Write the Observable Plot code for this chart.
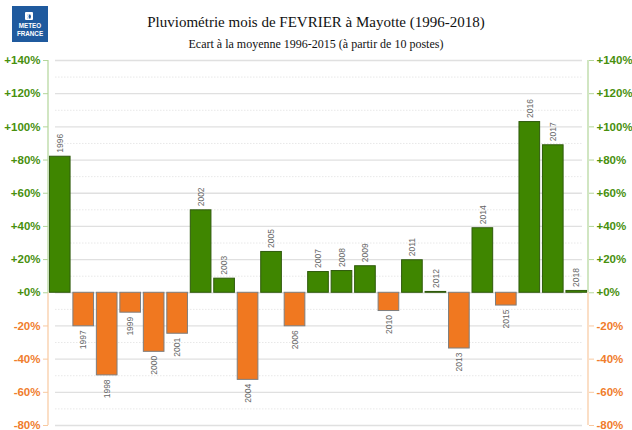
<!DOCTYPE html>
<html>
<head>
<meta charset="utf-8">
<script src="https://cdn.jsdelivr.net/npm/d3@7"></script>
<script src="https://cdn.jsdelivr.net/npm/@observablehq/plot@0.6"></script>
<style>
  body { margin: 0; background: #fff; }
  #wrap { position: relative; width: 632px; height: 430px; overflow: hidden; }
  .title { position: absolute; left: 0; width: 632px; text-align: center; font-family: "Liberation Serif", "Times New Roman", serif; color: #111; line-height: 1; white-space: nowrap; }
  #logo { position: absolute; left: 12px; top: 6px; width: 36px; height: 36px; background: #1f5a9e; }
  #logo .icon { position: absolute; left: 13px; top: 6px; width: 8px; height: 8px; background: #fff; border-radius: 1px; }
  #logo .icon::after { content: ""; position: absolute; left: 2px; top: 1.5px; width: 4px; height: 5px; border-radius: 50%; background: #1f5a9e; box-shadow: inset 1.5px 0 0 #fff; }
  #logo .txt { position: absolute; left: 0; width: 36px; text-align: center; color: #fff; font-family: "Liberation Sans", Arial, sans-serif; font-weight: bold; font-size: 6.3px; line-height: 1; }
</style>
</head>
<body>
<div id="wrap">
  <div id="chart"></div>
  <div class="title" style="top:15.4px;font-size:15px;">Pluviométrie mois de FEVRIER à Mayotte (1996-2018)</div>
  <div class="title" style="top:37.5px;font-size:12px;">Ecart à la moyenne 1996-2015 (à partir de 10 postes)</div>
  <div id="logo"><div class="icon"></div><div class="txt" style="top:17px;">METEO</div><div class="txt" style="top:25px;">FRANCE</div></div>
</div>
<script>
const years = ["1996","1997","1998","1999","2000","2001","2002","2003","2004","2005","2006","2007","2008","2009","2010","2011","2012","2013","2014","2015","2016","2017","2018"];
const ecarts = [82, -20.2, -49.8, -12, -35.6, -24.7, 49.7, 8.5, -52.5, 24.6, -20.2, 12.5, 13.1, 16, -11, 19.6, 0.5, -33.6, 38.9, -7.7, 102.9, 88.9, 1.1];
const majorTicks = [-80, -60, -40, -20, 0, 20, 40, 60, 80, 100, 120, 140];
const minorTicks = [-70, -50, -30, -10, 10, 30, 50, 70, 90, 110, 130];
const posTicks = [0, 20, 40, 60, 80, 100, 120, 140];
const negTicks = [-20, -40, -60, -80];

const data = years.map((y, i) => ({year: y, value: ecarts[i]}));
const pos = data.filter(d => d.value >= 0);
const neg = data.filter(d => d.value < 0);

const green = "#3f8600";
const orange = "#f07820";
const greenText = "#48900e";
const orangeText = "#f07d2c";
const greenLine = "#b3d69a";
const orangeLine = "#f8c9a0";
const fmt = d => (d >= 0 ? "+" : "") + d + "%";

function axisLines(index, scales, values, dims) {
  const y = scales.y;
  const g = d3.create("svg:g");
  const xs = [dims.marginLeft, dims.width - dims.marginRight];
  for (const x of xs) {
    g.append("line").attr("x1", x).attr("x2", x).attr("y1", y(0)).attr("y2", y(posTicks[posTicks.length - 1]))
      .attr("stroke", greenLine).attr("stroke-width", 1.2);
    g.append("line").attr("x1", x).attr("x2", x).attr("y1", y(0)).attr("y2", y(negTicks[negTicks.length - 1]))
      .attr("stroke", orangeLine).attr("stroke-width", 1.2);
  }
  return g.node();
}

const axisFont = {fontSize: 11.5, fontWeight: "bold", tickSize: 5, tickPadding: 3, label: null};

const chart = Plot.plot({
  width: 632,
  height: 430,
  marginTop: 60,
  marginBottom: 5,
  marginLeft: 48,
  marginRight: 44,
  style: {fontFamily: "'Liberation Sans', Arial, sans-serif", background: "transparent"},
  x: {type: "band", domain: years, paddingInner: 0.12, paddingOuter: 0.06, round: false, axis: null},
  y: {domain: [-80, 140], axis: null, label: null},
  marks: [
    Plot.ruleY(minorTicks, {stroke: "#e8e8e8", strokeDasharray: "1.5,1.5", insetLeft: 7, insetRight: 6}),
    Plot.ruleY(majorTicks, {stroke: "#e0e0e0", strokeWidth: 1.3, insetLeft: 7, insetRight: 6}),
    Plot.barY(pos, {x: "year", y: "value", fill: green, stroke: "#2f5a0c", strokeWidth: 1}),
    Plot.barY(neg, {x: "year", y: "value", fill: orange, stroke: "#7e7e7e", strokeWidth: 1}),
    Plot.text(pos, {x: "year", y: "value", text: "year", rotate: -90, textAnchor: "start", dy: -4, fill: "#666", fontSize: 8.5}),
    Plot.text(neg, {x: "year", y: "value", text: "year", rotate: -90, textAnchor: "end", dy: 4, fill: "#666", fontSize: 8.5}),
    axisLines,
    Plot.axisY(posTicks, {anchor: "left", tickFormat: fmt, fill: greenText, stroke: greenLine, ...axisFont}),
    Plot.axisY(negTicks, {anchor: "left", tickFormat: fmt, fill: orangeText, stroke: orangeLine, ...axisFont}),
    Plot.axisY(posTicks, {anchor: "right", tickFormat: fmt, fill: greenText, stroke: greenLine, ...axisFont}),
    Plot.axisY(negTicks, {anchor: "right", tickFormat: fmt, fill: orangeText, stroke: orangeLine, ...axisFont})
  ]
});
document.getElementById("chart").appendChild(chart);
</script>
</body>
</html>
